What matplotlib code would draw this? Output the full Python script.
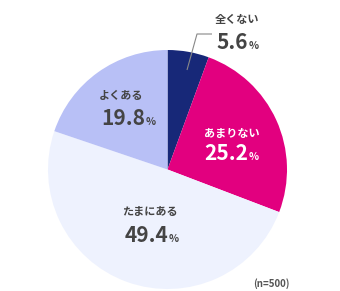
import matplotlib
import matplotlib.pyplot as plt

matplotlib.use("Agg")

plt.rcParams["font.family"] = ["Noto Sans CJK JP", "DejaVu Sans"]

LABELS = ["全くない", "あまりない", "たまにある", "よくある"]
VALUES = [5.6, 25.2, 49.4, 19.8]
COLORS = ["#172878", "#e2007f", "#eef2fe", "#b8c0f6"]
TEXT_COLORS = ["#444444", "#ffffff", "#444444", "#444444"]
N_NOTE = "(n=500)"

# label anchor positions in pixels (x, y from top): name centre, number right edge / baseline
NAME_POS = [(237, 19), (232, 133), (150, 211), (121, 96)]
NUM_POS = [(248, 49), (248, 160), (168, 242), (145, 125)]

W, H = 340, 291
CX, CY, R = 167.5, 169.5, 119.5

fig = plt.figure(figsize=(W / 100, H / 100), dpi=100)
ax = fig.add_axes([0, 0, 1, 1])

ax.pie(
    VALUES,
    colors=COLORS,
    startangle=90,
    counterclock=False,
    center=(CX, H - CY),
    radius=R,
    wedgeprops={"linewidth": 0},
    frame=True,
)
ax.set_xlim(0, W)
ax.set_ylim(0, H)
ax.axis("off")

for lab, val, tc, (nx, ny), (vx, vy) in zip(
    LABELS, VALUES, TEXT_COLORS, NAME_POS, NUM_POS, strict=True
):
    ax.text(nx, H - ny, lab, ha="center", va="center", fontsize=8,
            fontweight="bold", color=tc)
    ax.text(vx, H - vy, f"{val:.1f}", ha="right", va="baseline", fontsize=15,
            fontweight="bold", color=tc)
    ax.text(vx + 0.8, H - vy, "%", ha="left", va="baseline", fontsize=7.5,
            fontweight="bold", color=tc)

# leader line for the small slice
ax.plot([187, 197, 212], [H - 70, H - 34, H - 34], color="#888888",
        linewidth=0.8, solid_capstyle="butt")

ax.text(290, H - 284, N_NOTE, ha="right", va="center", fontsize=7,
        fontweight="bold", color="#555555")

fig.savefig("out.png", dpi=100)
